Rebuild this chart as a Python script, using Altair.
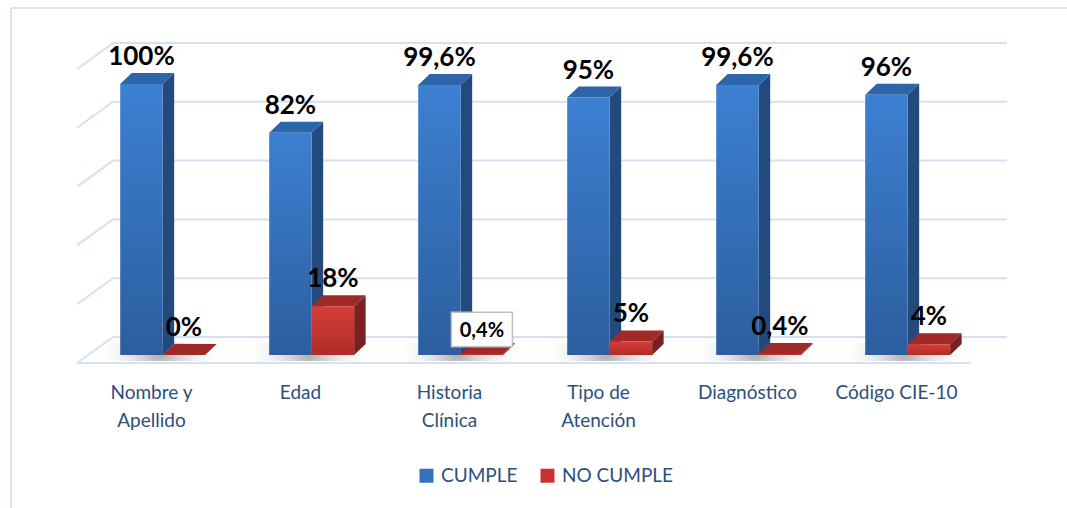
import altair as alt
import pandas as pd

# ---- data -----------------------------------------------------------------
categories = ["Nombre y Apellido", "Edad", "Historia Clínica",
              "Tipo de Atención", "Diagnóstico", "Código CIE-10"]
category_lines = [["Nombre y", "Apellido"], ["Edad"], ["Historia", "Clínica"],
                  ["Tipo de", "Atención"], ["Diagnóstico"], ["Código CIE-10"]]
series = ["CUMPLE", "NO CUMPLE"]
cumple = [100, 82, 99.6, 95, 99.6, 96]
no_cumple = [0, 18, 0.4, 5, 0.4, 4]
wall_levels = [0, 20, 40, 60, 80, 100]
boxed_label = ("Historia Clínica", "NO CUMPLE")

# ---- drawing geometry (pixels of the 1067x508 canvas) -----------------------
W, H = 1067, 508
SLOT_PX, FLOOR_LEFT_PX = 149, 77          # one category slot, front-left floor corner
BAR_PX, BAR_BASE_PX = 2.71, 355           # px per percent for the columns
WALL_PX, WALL_BASE_PX = 2.94, 337         # px per percent on the back wall
WALL_DEPTH_X, WALL_DEPTH_Y = 36, 26       # floor depth (oblique offset)
COL_DEPTH_X, COL_DEPTH_Y = 11.5, 11       # column depth
BAR_W = 0.285
BAR_START = 0.29

x_scale = alt.Scale(domain=[-FLOOR_LEFT_PX / SLOT_PX, (W - FLOOR_LEFT_PX) / SLOT_PX])
bar_y = alt.Scale(domain=[(BAR_BASE_PX - H) / BAR_PX, BAR_BASE_PX / BAR_PX])
wall_y = alt.Scale(domain=[(WALL_BASE_PX - H) / WALL_PX, WALL_BASE_PX / WALL_PX])

dX = COL_DEPTH_X / SLOT_PX
dY = COL_DEPTH_Y / BAR_PX
wall_dx = WALL_DEPTH_X / SLOT_PX
wall_dy = WALL_DEPTH_Y / WALL_PX

BLUE = "#3572BE"
RED = "#C8332F"
GRID = "#D5E1F3"
TEXT_BLUE = "#2C4F7C"
FONT = "Lato"


def pct(v):
    return f"{v:g}".replace(".", ",") + "%"


# ---- tables built from the arrays -------------------------------------------
bars, sides, tops = [], [], []
for i, cat in enumerate(categories):
    for s, (name, vals) in enumerate(zip(series, [cumple, no_cumple])):
        v = vals[i]
        x0 = i + BAR_START + s * BAR_W
        x1 = x0 + BAR_W
        bid = f"{i}-{s}"
        bars.append(dict(id=bid, cat=cat, series=name, value=v, x0=x0, x1=x1,
                         xc=(x0 + x1) / 2, top=v + dY, label=pct(v),
                         boxed=(cat, name) == boxed_label))
        sides += [dict(id=bid, series=name, x=x1, lo=0, hi=v),
                  dict(id=bid, series=name, x=x1 + dX, lo=dY, hi=v + dY)]
        tops += [dict(id=bid, series=name, y=v, xa=x0, xb=x1),
                 dict(id=bid, series=name, y=v + dY, xa=x0 + dX, xb=x1 + dX)]
bars = pd.DataFrame(bars)
sides = pd.DataFrame(sides)
tops = pd.DataFrame(tops)

walls = pd.DataFrame(dict(level=wall_levels))
walls["front"] = walls["level"] - wall_dy
walls["x_back0"] = wall_dx
walls["x_back1"] = wall_dx + len(categories)

cats = pd.DataFrame(dict(cat=categories,
                         text=["\n".join(l) for l in category_lines],
                         xc=[i + 0.5 for i in range(len(categories))]))
floor = pd.DataFrame(dict(x0=[0], x1=[len(categories)], y=[-wall_dy]))
shadows = pd.DataFrame(dict(xa=[i + BAR_START - 0.16 for i in range(len(categories))],
                            xb=[i + BAR_START + 2 * BAR_W + 0.12 for i in range(len(categories))]))
one = pd.DataFrame(dict(k=[0]))


def grad(top, bottom):
    return alt.LinearGradient(gradient="linear",
                              stops=[alt.GradientStop(offset=0, color=top),
                                     alt.GradientStop(offset=1, color=bottom)],
                              x1=0, x2=0, y1=0, y2=1)


X = lambda f: alt.X(f, scale=x_scale, axis=None)

# ---- frame and wall ---------------------------------------------------------
frame_left = alt.Chart(one).mark_rule(color="#D9E4F4", strokeWidth=2).encode(
    x=alt.value(11), y=alt.value(8), y2=alt.value(H))
frame_top = alt.Chart(one).mark_rule(color="#D9E4F4", strokeWidth=2).encode(
    x=alt.value(11), x2=alt.value(W), y=alt.value(8))

grid = alt.Chart(walls).mark_rule(color=GRID, strokeWidth=2).encode(
    x=X("x_back0:Q"), x2="x_back1:Q",
    y=alt.Y("level:Q", scale=wall_y, axis=None))
side_wall = alt.Chart(walls).mark_rule(color=GRID, strokeWidth=2).encode(
    x=X("zero:Q"), x2="x_back0:Q",
    y=alt.Y("front:Q", scale=wall_y, axis=None), y2="level:Q"
).transform_calculate(zero="0")
floor_front = alt.Chart(floor).mark_rule(color=GRID, strokeWidth=2).encode(
    x=X("x0:Q"), x2="x1:Q", y=alt.Y("y:Q", scale=wall_y, axis=None))

shadow = alt.Chart(shadows).mark_rect(
    fill=alt.RadialGradient(gradient="radial",
                            stops=[alt.GradientStop(offset=0, color="rgba(60,60,60,0.45)"),
                                   alt.GradientStop(offset=1, color="rgba(255,255,255,0)")],
                            r1=0, r2=0.5, x1=0.5, y1=0.5, x2=0.5, y2=0.5)
).encode(x=X("xa:Q"), x2="xb:Q",
         y=alt.Y("lo:Q", scale=bar_y, axis=None), y2="hi:Q"
).transform_calculate(lo="-2.2", hi="4.5")


# ---- 3-D columns --------------------------------------------------------------
def column(name, front_top, front_bottom, side_col, top_col):
    side = alt.Chart(sides).transform_filter(alt.datum.series == name).mark_area(
        color=side_col, interpolate="linear").encode(
        x=X("x:Q"), y=alt.Y("lo:Q", scale=bar_y, axis=None), y2="hi:Q",
        detail="id:N")
    top = alt.Chart(tops).transform_filter(alt.datum.series == name).mark_area(
        color=top_col, orient="horizontal").encode(
        y=alt.Y("y:Q", scale=bar_y, axis=None), x=X("xa:Q"), x2="xb:Q",
        detail="id:N")
    front = alt.Chart(bars).transform_filter(alt.datum.series == name).mark_rect(
        fill=grad(front_top, front_bottom)).encode(
        x=X("x0:Q"), x2="x1:Q",
        y=alt.Y("base:Q", scale=bar_y, axis=None), y2="value:Q"
    ).transform_calculate(base="0")
    return [side, top, front]


blue_cols = column("CUMPLE", "#3C80D2", "#2C5E9E", "#234A7C", "#2E64A8")
red_cols = column("NO CUMPLE", "#D63E37", "#B12B28", "#7A2020", "#A02A27")

# ---- value labels -------------------------------------------------------------
labels = alt.Chart(bars).transform_filter("!datum.boxed").mark_text(
    font=FONT, fontWeight="bold", fontSize=26, color="#000000",
    baseline="alphabetic", dy=-8).encode(
    x=X("xc:Q"), y=alt.Y("top:Q", scale=bar_y, axis=None), text="label:N")

box = alt.Chart(bars).transform_filter("datum.boxed").transform_calculate(
    bx0=f"datum.xc - {30.5 / SLOT_PX}", bx1=f"datum.xc + {30.5 / SLOT_PX}",
    by0=f"datum.top - {3.8 / BAR_PX}", by1=f"datum.top + {30.6 / BAR_PX}"
).mark_rect(fill="#FFFFFF", stroke="#BFBFBF", strokeWidth=1.5).encode(
    x=X("bx0:Q"), x2="bx1:Q",
    y=alt.Y("by0:Q", scale=bar_y, axis=None), y2="by1:Q")
boxed_text = alt.Chart(bars).transform_filter("datum.boxed").mark_text(
    font=FONT, fontWeight="bold", fontSize=20, color="#000000",
    baseline="alphabetic", dy=-6).encode(
    x=X("xc:Q"), y=alt.Y("top:Q", scale=bar_y, axis=None), text="label:N")

# ---- category labels ------------------------------------------------------------
cat_text = alt.Chart(cats).mark_text(
    font=FONT, fontSize=19, color=TEXT_BLUE, baseline="alphabetic",
    lineBreak="\n", lineHeight=28).encode(
    x=X("xc:Q"), y=alt.value(399), text="text:N")

# ---- legend ----------------------------------------------------------------------
legend = alt.Chart(bars).mark_square(opacity=0, size=1).encode(
    x=X("xc:Q"), y=alt.Y("value:Q", scale=bar_y, axis=None),
    color=alt.Color("series:N",
                    scale=alt.Scale(domain=series, range=[BLUE, RED]),
                    legend=alt.Legend(orient="none", legendX=417, legendY=466,
                                      direction="horizontal", title=None,
                                      symbolType="square", symbolSize=196,
                                      symbolOpacity=1, symbolStrokeWidth=0,
                                      labelFont=FONT, labelFontSize=19,
                                      labelColor=TEXT_BLUE, labelOffset=5,
                                      columnPadding=20, padding=0)))

layers = ([frame_left, frame_top, grid, side_wall, floor_front, shadow]
          + blue_cols + red_cols
          + [labels, box, boxed_text, cat_text, legend])

chart = alt.layer(*layers).resolve_scale(y="independent").properties(
    width=W, height=H, padding=0,
    autosize=alt.AutoSizeParams(type="none"),
    background="#FFFFFF"
).configure_view(strokeWidth=0)

chart.save("out.html", embed_options={"renderer": "svg", "actions": False})
